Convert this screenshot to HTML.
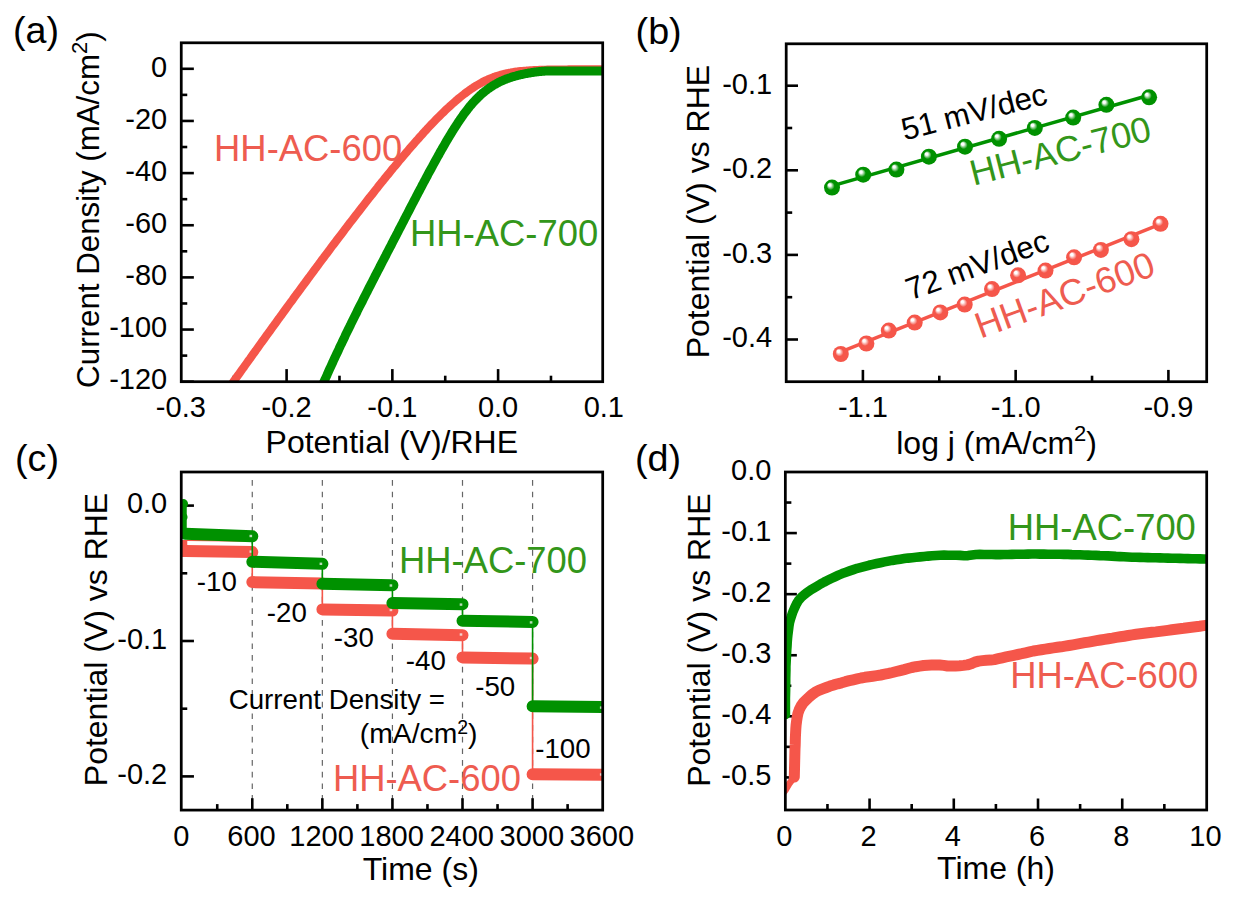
<!DOCTYPE html>
<html><head><meta charset="utf-8"><style>html,body{margin:0;padding:0;background:#fff;overflow:hidden}svg{display:block}</style></head>
<body>
<svg width="1247" height="900" viewBox="0 0 1247 900" font-family='"Liberation Sans", sans-serif'>
<defs>
<radialGradient id="gG" cx="0.5" cy="0.5" r="0.5" fx="0.33" fy="0.30"><stop offset="0" stop-color="#fff"/><stop offset="0.16" stop-color="#fff" stop-opacity="0.95"/><stop offset="0.5" stop-color="#009100"/><stop offset="1" stop-color="#009100"/></radialGradient>
<radialGradient id="gR" cx="0.5" cy="0.5" r="0.5" fx="0.33" fy="0.30"><stop offset="0" stop-color="#fff"/><stop offset="0.16" stop-color="#fff" stop-opacity="0.95"/><stop offset="0.5" stop-color="#F5564A"/><stop offset="1" stop-color="#F5564A"/></radialGradient>
<clipPath id="cA"><rect x="181.25" y="42.8" width="421.45" height="338.9"/></clipPath>
<clipPath id="cC"><rect x="181.25" y="472" width="421.45" height="338.1"/></clipPath>
<clipPath id="cD"><rect x="785.35" y="472" width="421.35" height="338"/></clipPath>
</defs>
<rect width="1247" height="900" fill="#fff"/>
<line x1="181.25" y1="68.80" x2="193.85" y2="68.80" stroke="#000" stroke-width="2.6" />
<line x1="181.25" y1="120.95" x2="193.85" y2="120.95" stroke="#000" stroke-width="2.6" />
<line x1="181.25" y1="173.10" x2="193.85" y2="173.10" stroke="#000" stroke-width="2.6" />
<line x1="181.25" y1="225.25" x2="193.85" y2="225.25" stroke="#000" stroke-width="2.6" />
<line x1="181.25" y1="277.40" x2="193.85" y2="277.40" stroke="#000" stroke-width="2.6" />
<line x1="181.25" y1="329.55" x2="193.85" y2="329.55" stroke="#000" stroke-width="2.6" />
<line x1="181.25" y1="381.70" x2="193.85" y2="381.70" stroke="#000" stroke-width="2.6" />
<line x1="181.25" y1="94.88" x2="187.25" y2="94.88" stroke="#000" stroke-width="2.6" />
<line x1="181.25" y1="147.02" x2="187.25" y2="147.02" stroke="#000" stroke-width="2.6" />
<line x1="181.25" y1="199.18" x2="187.25" y2="199.18" stroke="#000" stroke-width="2.6" />
<line x1="181.25" y1="251.32" x2="187.25" y2="251.32" stroke="#000" stroke-width="2.6" />
<line x1="181.25" y1="303.47" x2="187.25" y2="303.47" stroke="#000" stroke-width="2.6" />
<line x1="181.25" y1="355.62" x2="187.25" y2="355.62" stroke="#000" stroke-width="2.6" />
<line x1="286.60" y1="381.70" x2="286.60" y2="369.10" stroke="#000" stroke-width="2.6" />
<line x1="392.35" y1="381.70" x2="392.35" y2="369.10" stroke="#000" stroke-width="2.6" />
<line x1="498.10" y1="381.70" x2="498.10" y2="369.10" stroke="#000" stroke-width="2.6" />
<line x1="233.73" y1="381.70" x2="233.73" y2="375.70" stroke="#000" stroke-width="2.6" />
<line x1="339.48" y1="381.70" x2="339.48" y2="375.70" stroke="#000" stroke-width="2.6" />
<line x1="445.23" y1="381.70" x2="445.23" y2="375.70" stroke="#000" stroke-width="2.6" />
<line x1="550.98" y1="381.70" x2="550.98" y2="375.70" stroke="#000" stroke-width="2.6" />
<g clip-path="url(#cA)" fill="none" stroke-linejoin="round">
<path transform="translate(1.2,0)" d="M227.5,388.3 L229.4,385.6 L231.4,382.9 L233.3,380.2 L235.2,377.5 L237.2,374.8 L239.1,372.1 L241.0,369.4 L243.0,366.7 L244.9,364.0 L246.8,361.3 L248.8,358.6 L250.7,355.9 L252.6,353.2 L254.6,350.5 L256.5,347.8 L258.4,345.2 L260.3,342.5 L262.3,339.8 L264.2,337.1 L266.1,334.4 L268.1,331.8 L270.0,329.1 L271.9,326.4 L273.9,323.8 L275.8,321.1 L277.7,318.4 L279.7,315.8 L281.6,313.1 L283.5,310.5 L285.5,307.8 L287.4,305.2 L289.3,302.5 L291.3,299.9 L293.2,297.2 L295.1,294.6 L297.1,292.0 L299.0,289.3 L300.9,286.7 L302.9,284.1 L304.8,281.5 L306.7,278.8 L308.7,276.2 L310.6,273.6 L312.5,271.0 L314.4,268.4 L316.4,265.8 L318.3,263.2 L320.2,260.6 L322.2,258.0 L324.1,255.4 L326.0,252.9 L328.0,250.3 L329.9,247.7 L331.8,245.1 L333.8,242.6 L335.7,240.0 L337.6,237.5 L339.6,234.9 L341.5,232.4 L343.4,229.8 L345.4,227.3 L347.3,224.8 L349.2,222.2 L351.2,219.7 L353.1,217.2 L355.0,214.7 L357.0,212.2 L358.9,209.7 L360.8,207.2 L362.8,204.7 L364.7,202.3 L366.6,199.8 L368.5,197.3 L370.5,194.9 L372.4,192.4 L374.3,190.0 L376.3,187.6 L378.2,185.1 L380.1,182.7 L382.1,180.3 L384.0,177.9 L385.9,175.5 L387.9,173.2 L389.8,170.8 L391.7,168.4 L393.7,166.1 L395.6,163.8 L397.5,161.4 L399.5,159.1 L401.4,156.8 L403.3,154.6 L405.3,152.3 L407.2,150.0 L409.1,147.8 L411.1,145.6 L413.0,143.3 L414.9,141.1 L416.9,139.0 L418.8,136.8 L420.7,134.7 L422.6,132.5 L424.6,130.4 L426.5,128.3 L428.4,126.3 L430.4,124.2 L432.3,122.2 L434.2,120.2 L436.2,118.2 L438.1,116.3 L440.0,114.4 L442.0,112.5 L443.9,110.6 L445.8,108.8 L447.8,107.0 L449.7,105.2 L451.6,103.5 L453.6,101.8 L455.5,100.1 L457.4,98.5 L459.4,96.9 L461.3,95.4 L463.2,93.9 L465.2,92.4 L467.1,91.0 L469.0,89.6 L471.0,88.3 L472.9,87.0 L474.8,85.8 L476.7,84.7 L478.7,83.6 L480.6,82.5 L482.5,81.5 L484.5,80.5 L486.4,79.6 L488.3,78.8 L490.3,78.0 L492.2,77.2 L494.1,76.5 L496.1,75.9 L498.0,75.3 L499.9,74.7 L501.9,74.2 L503.8,73.7 L505.7,73.3 L507.7,72.9 L509.6,72.6 L511.5,72.2 L513.5,71.9 L515.4,71.7 L517.3,71.4 L519.3,71.2 L521.2,71.0 L523.1,70.8 L525.1,70.7 L527.0,70.5 L528.9,70.4 L530.8,70.3 L532.8,70.2 L534.7,70.1 L536.6,70.0 L538.6,69.9 L540.5,69.9 L542.4,69.8 L544.4,69.8 L546.3,69.7 L548.2,69.7 L550.2,69.7 L552.1,69.6 L554.0,69.6 L556.0,69.6 L557.9,69.5 L559.8,69.5 L561.8,69.5 L563.7,69.5 L565.6,69.5 L567.6,69.4 L569.5,69.4 L571.4,69.4 L573.4,69.4 L575.3,69.4 L577.2,69.4 L579.2,69.4 L581.1,69.4 L583.0,69.4 L584.9,69.4 L586.9,69.4 L588.8,69.4 L590.7,69.4 L592.7,69.4 L594.6,69.4 L596.5,69.4 L598.5,69.4 L600.4,69.4 L602.3,69.4 L604.3,69.4 L606.2,69.4 L608.1,69.4 L610.1,69.4 L612.0,69.4" stroke="#F5564A" stroke-width="8.2"/>
<path transform="translate(1.0,0)" d="M318.0,393.1 L319.0,390.9 L320.0,388.6 L320.9,386.4 L321.9,384.1 L322.9,381.9 L323.9,379.7 L324.9,377.5 L325.9,375.3 L326.8,373.1 L327.8,370.9 L328.8,368.7 L329.8,366.6 L330.8,364.4 L331.8,362.3 L332.7,360.1 L333.7,358.0 L334.7,355.9 L335.7,353.8 L336.7,351.7 L337.7,349.6 L338.6,347.5 L339.6,345.4 L340.6,343.4 L341.6,341.3 L342.6,339.2 L343.6,337.2 L344.5,335.1 L345.5,333.1 L346.5,331.1 L347.5,329.0 L348.5,327.0 L349.5,325.0 L350.4,323.0 L351.4,321.0 L352.4,319.0 L353.4,317.0 L354.4,315.0 L355.4,313.1 L356.3,311.1 L357.3,309.1 L358.3,307.1 L359.3,305.2 L360.3,303.2 L361.3,301.3 L362.2,299.3 L363.2,297.4 L364.2,295.4 L365.2,293.5 L366.2,291.6 L367.2,289.6 L368.1,287.7 L369.1,285.8 L370.1,283.9 L371.1,282.0 L372.1,280.0 L373.1,278.1 L374.0,276.2 L375.0,274.3 L376.0,272.4 L377.0,270.5 L378.0,268.6 L379.0,266.7 L379.9,264.8 L380.9,262.9 L381.9,261.0 L382.9,259.1 L383.9,257.2 L384.9,255.3 L385.8,253.4 L386.8,251.5 L387.8,249.6 L388.8,247.7 L389.8,245.8 L390.8,243.9 L391.7,242.0 L392.7,240.1 L393.7,238.2 L394.7,236.3 L395.7,234.4 L396.7,232.5 L397.6,230.6 L398.6,228.7 L399.6,226.8 L400.6,224.9 L401.6,223.0 L402.6,221.1 L403.5,219.2 L404.5,217.3 L405.5,215.4 L406.5,213.5 L407.5,211.6 L408.5,209.7 L409.4,207.8 L410.4,205.9 L411.4,204.0 L412.4,202.1 L413.4,200.2 L414.4,198.3 L415.3,196.5 L416.3,194.6 L417.3,192.7 L418.3,190.8 L419.3,188.9 L420.3,187.1 L421.2,185.2 L422.2,183.4 L423.2,181.5 L424.2,179.7 L425.2,177.8 L426.2,176.0 L427.1,174.1 L428.1,172.3 L429.1,170.5 L430.1,168.7 L431.1,166.9 L432.1,165.0 L433.0,163.3 L434.0,161.5 L435.0,159.7 L436.0,157.9 L437.0,156.1 L438.0,154.4 L438.9,152.6 L439.9,150.9 L440.9,149.1 L441.9,147.4 L442.9,145.7 L443.9,144.0 L444.8,142.3 L445.8,140.6 L446.8,139.0 L447.8,137.3 L448.8,135.7 L449.8,134.1 L450.7,132.5 L451.7,130.9 L452.7,129.3 L453.7,127.8 L454.7,126.2 L455.7,124.7 L456.6,123.2 L457.6,121.7 L458.6,120.3 L459.6,118.8 L460.6,117.4 L461.6,116.0 L462.5,114.6 L463.5,113.3 L464.5,112.0 L465.5,110.7 L466.5,109.4 L467.5,108.2 L468.4,106.9 L469.4,105.7 L470.4,104.6 L471.4,103.4 L472.4,102.3 L473.4,101.2 L474.3,100.2 L475.3,99.2 L476.3,98.2 L477.3,97.2 L478.3,96.3 L479.3,95.3 L480.2,94.4 L481.2,93.6 L482.2,92.7 L483.2,91.9 L484.2,91.1 L485.2,90.4 L486.1,89.6 L487.1,88.9 L488.1,88.2 L489.1,87.5 L490.1,86.9 L491.1,86.2 L492.0,85.6 L493.0,85.0 L494.0,84.4 L495.0,83.9 L496.0,83.3 L497.0,82.8 L497.9,82.3 L498.9,81.8 L499.9,81.3 L500.9,80.9 L501.9,80.4 L502.9,80.0 L503.8,79.6 L504.8,79.2 L505.8,78.8 L506.8,78.5 L507.8,78.1 L508.8,77.8 L509.7,77.5 L510.7,77.1 L511.7,76.8 L512.7,76.5 L513.7,76.3 L514.7,76.0 L515.6,75.7 L516.6,75.5 L517.6,75.2 L518.6,75.0 L519.6,74.7 L520.6,74.5 L521.5,74.3 L522.5,74.1 L523.5,73.9 L524.5,73.7 L525.5,73.5 L526.5,73.3 L527.4,73.1 L528.4,73.0 L529.4,72.8 L530.4,72.6 L531.4,72.5 L532.4,72.3 L533.3,72.2 L534.3,72.1 L535.3,71.9 L536.3,71.8 L537.3,71.7 L538.3,71.6 L539.2,71.5 L540.2,71.4 L541.2,71.3 L542.2,71.2 L543.2,71.2 L544.2,71.1 L545.1,71.1 L546.1,71.0 L547.1,71.0 L548.1,71.0 L549.1,71.0 L550.1,71.0 L551.0,71.0 L552.0,70.9 L553.0,70.9 L554.0,70.9 L555.0,70.9 L556.0,70.9 L556.9,70.9 L557.9,70.9 L558.9,70.9 L559.9,70.9 L560.9,70.9 L561.9,70.9 L562.8,70.9 L563.8,70.9 L564.8,70.9 L565.8,70.9 L566.8,70.9 L567.8,70.9 L568.7,70.9 L569.7,70.9 L570.7,70.9 L571.7,70.9 L572.7,70.9 L573.7,70.9 L574.6,70.9 L575.6,70.9 L576.6,70.9 L577.6,70.9 L578.6,70.9 L579.6,70.9 L580.5,70.9 L581.5,70.9 L582.5,70.9 L583.5,70.9 L584.5,70.9 L585.5,70.9 L586.4,70.9 L587.4,70.9 L588.4,70.9 L589.4,70.9 L590.4,70.9 L591.4,70.9 L592.3,70.9 L593.3,70.9 L594.3,70.9 L595.3,70.9 L596.3,70.9 L597.3,70.9 L598.2,70.9 L599.2,70.9 L600.2,70.9 L601.2,70.9 L602.2,70.9 L603.2,70.9 L604.1,70.9 L605.1,70.9 L606.1,70.9 L607.1,70.9 L608.1,70.9 L609.1,70.9 L610.0,70.9 L611.0,70.9 L612.0,70.9" stroke="#009100" stroke-width="9"/>
</g>
<rect x="181.25" y="42.80" width="421.45" height="338.90" fill="none" stroke="#000" stroke-width="2.75"/>
<text x="167.25" y="76.50" font-size="29" text-anchor="end" fill="#000" >0</text>
<text x="167.25" y="128.65" font-size="29" text-anchor="end" fill="#000" >-20</text>
<text x="167.25" y="180.80" font-size="29" text-anchor="end" fill="#000" >-40</text>
<text x="167.25" y="232.95" font-size="29" text-anchor="end" fill="#000" >-60</text>
<text x="167.25" y="285.10" font-size="29" text-anchor="end" fill="#000" >-80</text>
<text x="167.25" y="337.25" font-size="29" text-anchor="end" fill="#000" >-100</text>
<text x="167.25" y="389.40" font-size="29" text-anchor="end" fill="#000" >-120</text>
<text x="180.85" y="416.60" font-size="29" text-anchor="middle" fill="#000" >-0.3</text>
<text x="286.60" y="416.60" font-size="29" text-anchor="middle" fill="#000" >-0.2</text>
<text x="392.35" y="416.60" font-size="29" text-anchor="middle" fill="#000" >-0.1</text>
<text x="498.10" y="416.60" font-size="29" text-anchor="middle" fill="#000" >0.0</text>
<text x="603.85" y="416.60" font-size="29" text-anchor="middle" fill="#000" >0.1</text>
<text x="391.80" y="453.30" font-size="32" text-anchor="middle" fill="#000" >Potential (V)/RHE</text>
<text transform="translate(99.4,209.6) rotate(-90)" font-size="31.3" text-anchor="middle">Current Density (mA/cm<tspan font-size="22" dy="-12.5">2</tspan><tspan dy="12.5">)</tspan></text>
<text x="13.00" y="43.30" font-size="37.7" text-anchor="start" fill="#000" >(a)</text>
<text x="214.10" y="161.30" font-size="36.4" text-anchor="start" fill="#EE5C50" >HH-AC-600</text>
<text x="410.10" y="246.00" font-size="36.4" text-anchor="start" fill="#33961A" >HH-AC-700</text>
<rect x="786.20" y="43.80" width="420.50" height="337.90" fill="none" stroke="#000" stroke-width="2.75"/>
<line x1="786.20" y1="85.70" x2="798.00" y2="85.70" stroke="#000" stroke-width="2.6" />
<line x1="786.20" y1="170.30" x2="798.00" y2="170.30" stroke="#000" stroke-width="2.6" />
<line x1="786.20" y1="254.90" x2="798.00" y2="254.90" stroke="#000" stroke-width="2.6" />
<line x1="786.20" y1="339.50" x2="798.00" y2="339.50" stroke="#000" stroke-width="2.6" />
<line x1="786.20" y1="128.00" x2="792.20" y2="128.00" stroke="#000" stroke-width="2.6" />
<line x1="786.20" y1="212.60" x2="792.20" y2="212.60" stroke="#000" stroke-width="2.6" />
<line x1="786.20" y1="297.20" x2="792.20" y2="297.20" stroke="#000" stroke-width="2.6" />
<line x1="862.90" y1="381.70" x2="862.90" y2="369.90" stroke="#000" stroke-width="2.6" />
<line x1="1015.65" y1="381.70" x2="1015.65" y2="369.90" stroke="#000" stroke-width="2.6" />
<line x1="1168.40" y1="381.70" x2="1168.40" y2="369.90" stroke="#000" stroke-width="2.6" />
<line x1="939.28" y1="381.70" x2="939.28" y2="375.70" stroke="#000" stroke-width="2.6" />
<line x1="1092.03" y1="381.70" x2="1092.03" y2="375.70" stroke="#000" stroke-width="2.6" />
<text x="772.20" y="93.60" font-size="29" text-anchor="end" fill="#000" >-0.1</text>
<text x="772.20" y="178.20" font-size="29" text-anchor="end" fill="#000" >-0.2</text>
<text x="772.20" y="262.80" font-size="29" text-anchor="end" fill="#000" >-0.3</text>
<text x="772.20" y="347.40" font-size="29" text-anchor="end" fill="#000" >-0.4</text>
<text x="862.90" y="417.20" font-size="29" text-anchor="middle" fill="#000" >-1.1</text>
<text x="1015.65" y="417.20" font-size="29" text-anchor="middle" fill="#000" >-1.0</text>
<text x="1168.40" y="417.20" font-size="29" text-anchor="middle" fill="#000" >-0.9</text>
<text x="996.6" y="453.5" font-size="32" text-anchor="middle">log j (mA/cm<tspan font-size="22" dy="-12.5">2</tspan><tspan dy="12.5">)</tspan></text>
<text transform="translate(709.4,211.6) rotate(-90)" font-size="32" text-anchor="middle">Potential (V) vs RHE</text>
<text x="635.60" y="44.30" font-size="37.7" text-anchor="start" fill="#000" >(b)</text>
<line x1="832.00" y1="185.83" x2="1149.10" y2="95.23" stroke="#009100" stroke-width="3.5" />
<circle cx="832.0" cy="187.6" r="8" fill="url(#gG)"/>
<circle cx="863.2" cy="174.7" r="8" fill="url(#gG)"/>
<circle cx="896.4" cy="169.6" r="8" fill="url(#gG)"/>
<circle cx="928.9" cy="156.7" r="8" fill="url(#gG)"/>
<circle cx="965" cy="146.7" r="8" fill="url(#gG)"/>
<circle cx="999.1" cy="138.8" r="8" fill="url(#gG)"/>
<circle cx="1034.8" cy="127.9" r="8" fill="url(#gG)"/>
<circle cx="1073.2" cy="117.6" r="8" fill="url(#gG)"/>
<circle cx="1106.4" cy="104.8" r="8" fill="url(#gG)"/>
<circle cx="1149.1" cy="97.3" r="8" fill="url(#gG)"/>
<line x1="840.80" y1="351.97" x2="1160.50" y2="224.15" stroke="#F5564A" stroke-width="3.5" />
<circle cx="840.8" cy="354.0" r="8" fill="url(#gR)"/>
<circle cx="866.4" cy="343.5" r="8" fill="url(#gR)"/>
<circle cx="888.8" cy="330.6" r="8" fill="url(#gR)"/>
<circle cx="914.7" cy="322.6" r="8" fill="url(#gR)"/>
<circle cx="940.3" cy="312.4" r="8" fill="url(#gR)"/>
<circle cx="964.7" cy="304.6" r="8" fill="url(#gR)"/>
<circle cx="992" cy="289.1" r="8" fill="url(#gR)"/>
<circle cx="1018.1" cy="275.3" r="8" fill="url(#gR)"/>
<circle cx="1045.5" cy="270.6" r="8" fill="url(#gR)"/>
<circle cx="1074.1" cy="257.3" r="8" fill="url(#gR)"/>
<circle cx="1100.9" cy="249.9" r="8" fill="url(#gR)"/>
<circle cx="1131.4" cy="239.2" r="8" fill="url(#gR)"/>
<circle cx="1160.5" cy="223.8" r="8" fill="url(#gR)"/>
<text transform="translate(904.5,140.5) rotate(-14.3)" font-size="31.2" fill="#000">51 mV/dec</text>
<text transform="translate(973.4,185.7) rotate(-14.3)" font-size="35.9" fill="#33961A">HH-AC-700</text>
<text transform="translate(910.6,300.6) rotate(-20)" font-size="31.3" fill="#000">72 mV/dec</text>
<text transform="translate(980.5,338.8) rotate(-20)" font-size="36.4" fill="#EE5C50">HH-AC-600</text>
<line x1="252.27" y1="480.00" x2="252.27" y2="810.10" stroke="#666" stroke-width="1.2" stroke-dasharray="5.7 5.97"/>
<line x1="322.35" y1="480.00" x2="322.35" y2="810.10" stroke="#666" stroke-width="1.2" stroke-dasharray="5.7 5.97"/>
<line x1="392.43" y1="480.00" x2="392.43" y2="810.10" stroke="#666" stroke-width="1.2" stroke-dasharray="5.7 5.97"/>
<line x1="462.50" y1="480.00" x2="462.50" y2="810.10" stroke="#666" stroke-width="1.2" stroke-dasharray="5.7 5.97"/>
<line x1="532.58" y1="480.00" x2="532.58" y2="810.10" stroke="#666" stroke-width="1.2" stroke-dasharray="5.7 5.97"/>
<line x1="181.25" y1="505.60" x2="193.95" y2="505.60" stroke="#000" stroke-width="2.6" />
<line x1="181.25" y1="641.00" x2="193.95" y2="641.00" stroke="#000" stroke-width="2.6" />
<line x1="181.25" y1="776.40" x2="193.95" y2="776.40" stroke="#000" stroke-width="2.6" />
<line x1="181.25" y1="573.30" x2="187.25" y2="573.30" stroke="#000" stroke-width="2.6" />
<line x1="181.25" y1="708.70" x2="187.25" y2="708.70" stroke="#000" stroke-width="2.6" />
<line x1="252.27" y1="810.10" x2="252.27" y2="798.20" stroke="#000" stroke-width="2.6" />
<line x1="322.35" y1="810.10" x2="322.35" y2="798.20" stroke="#000" stroke-width="2.6" />
<line x1="392.43" y1="810.10" x2="392.43" y2="798.20" stroke="#000" stroke-width="2.6" />
<line x1="462.50" y1="810.10" x2="462.50" y2="798.20" stroke="#000" stroke-width="2.6" />
<line x1="532.58" y1="810.10" x2="532.58" y2="798.20" stroke="#000" stroke-width="2.6" />
<line x1="217.24" y1="810.10" x2="217.24" y2="804.10" stroke="#000" stroke-width="2.6" />
<line x1="287.31" y1="810.10" x2="287.31" y2="804.10" stroke="#000" stroke-width="2.6" />
<line x1="357.39" y1="810.10" x2="357.39" y2="804.10" stroke="#000" stroke-width="2.6" />
<line x1="427.46" y1="810.10" x2="427.46" y2="804.10" stroke="#000" stroke-width="2.6" />
<line x1="497.54" y1="810.10" x2="497.54" y2="804.10" stroke="#000" stroke-width="2.6" />
<line x1="567.61" y1="810.10" x2="567.61" y2="804.10" stroke="#000" stroke-width="2.6" />
<g clip-path="url(#cC)" stroke-linecap="round" fill="none">
<rect x="181.25" y="540" width="6" height="17" fill="#F5564A" stroke="none"/>
<line x1="185.2" y1="551.10" x2="252.3" y2="552.10" stroke="#F5564A" stroke-width="12"/>
<line x1="252.27" y1="551.60" x2="252.27" y2="582.80" stroke="#F5564A" stroke-width="1.6" />
<line x1="252.3" y1="582.10" x2="322.4" y2="583.50" stroke="#F5564A" stroke-width="12"/>
<line x1="322.35" y1="582.80" x2="322.35" y2="610.00" stroke="#F5564A" stroke-width="1.6" />
<line x1="322.4" y1="609.40" x2="392.4" y2="610.60" stroke="#F5564A" stroke-width="12"/>
<line x1="392.43" y1="610.00" x2="392.43" y2="634.50" stroke="#F5564A" stroke-width="1.6" />
<line x1="392.4" y1="633.80" x2="462.5" y2="635.20" stroke="#F5564A" stroke-width="12"/>
<line x1="462.50" y1="634.50" x2="462.50" y2="658.00" stroke="#F5564A" stroke-width="1.6" />
<line x1="462.5" y1="657.40" x2="532.6" y2="658.60" stroke="#F5564A" stroke-width="12"/>
<line x1="532.58" y1="658.00" x2="532.58" y2="774.50" stroke="#F5564A" stroke-width="1.6" />
<line x1="532.6" y1="774.20" x2="602.7" y2="774.80" stroke="#F5564A" stroke-width="12"/>
<line x1="187.25" y1="540.40" x2="248.27" y2="541.20" stroke="#F5564A" stroke-width="1.3" />
<rect x="249.5" y="550.4" width="2.6" height="2.4" fill="#f4d0cc" stroke="none"/>
<rect x="319.6" y="581.6" width="2.6" height="2.4" fill="#f4d0cc" stroke="none"/>
<rect x="389.6" y="608.8" width="2.6" height="2.4" fill="#f4d0cc" stroke="none"/>
<rect x="459.7" y="633.3" width="2.6" height="2.4" fill="#f4d0cc" stroke="none"/>
<rect x="529.8" y="656.8" width="2.6" height="2.4" fill="#f4d0cc" stroke="none"/>
<rect x="599.9" y="773.3" width="2.6" height="2.4" fill="#f4d0cc" stroke="none"/>
<line x1="185.2" y1="533.70" x2="252.3" y2="536.30" stroke="#009100" stroke-width="12"/>
<line x1="252.27" y1="535.00" x2="252.27" y2="562.80" stroke="#009100" stroke-width="1.6" />
<line x1="252.3" y1="561.80" x2="322.4" y2="563.80" stroke="#009100" stroke-width="12"/>
<line x1="322.35" y1="562.80" x2="322.35" y2="584.50" stroke="#009100" stroke-width="1.6" />
<line x1="322.4" y1="583.80" x2="392.4" y2="585.20" stroke="#009100" stroke-width="12"/>
<line x1="392.43" y1="584.50" x2="392.43" y2="603.60" stroke="#009100" stroke-width="1.6" />
<line x1="392.4" y1="603.00" x2="462.5" y2="604.20" stroke="#009100" stroke-width="12"/>
<line x1="462.50" y1="603.60" x2="462.50" y2="621.40" stroke="#009100" stroke-width="1.6" />
<line x1="462.5" y1="620.80" x2="532.6" y2="622.00" stroke="#009100" stroke-width="12"/>
<line x1="532.58" y1="621.40" x2="532.58" y2="706.60" stroke="#009100" stroke-width="1.6" />
<line x1="532.6" y1="706.30" x2="602.7" y2="706.90" stroke="#009100" stroke-width="12"/>
<rect x="249.5" y="534.8" width="2.6" height="2.4" fill="#b8dcb8" stroke="none"/>
<rect x="319.6" y="562.6" width="2.6" height="2.4" fill="#b8dcb8" stroke="none"/>
<rect x="389.6" y="584.3" width="2.6" height="2.4" fill="#b8dcb8" stroke="none"/>
<rect x="459.7" y="603.4" width="2.6" height="2.4" fill="#b8dcb8" stroke="none"/>
<rect x="529.8" y="621.2" width="2.6" height="2.4" fill="#b8dcb8" stroke="none"/>
<rect x="599.9" y="706.4" width="2.6" height="2.4" fill="#b8dcb8" stroke="none"/>
<path d="M183.25,505.5 L183.25,530" stroke="#009100" stroke-width="7" stroke-linecap="round"/>
<circle cx="183.25" cy="503.8" r="4.8" fill="#009100"/>
<circle cx="183.25" cy="517" r="4.3" fill="#009100"/>
</g>
<rect x="181.25" y="472.00" width="421.45" height="338.10" fill="none" stroke="#000" stroke-width="2.75"/>
<text x="167.25" y="513.40" font-size="29" text-anchor="end" fill="#000" >0.0</text>
<text x="167.25" y="648.80" font-size="29" text-anchor="end" fill="#000" >-0.1</text>
<text x="167.25" y="784.20" font-size="29" text-anchor="end" fill="#000" >-0.2</text>
<text x="181.40" y="845.50" font-size="29" text-anchor="middle" fill="#000" >0</text>
<text x="251.47" y="845.50" font-size="29" text-anchor="middle" fill="#000" >600</text>
<text x="321.55" y="845.50" font-size="29" text-anchor="middle" fill="#000" >1200</text>
<text x="391.62" y="845.50" font-size="29" text-anchor="middle" fill="#000" >1800</text>
<text x="461.70" y="845.50" font-size="29" text-anchor="middle" fill="#000" >2400</text>
<text x="531.78" y="845.50" font-size="29" text-anchor="middle" fill="#000" >3000</text>
<text x="601.85" y="845.50" font-size="29" text-anchor="middle" fill="#000" >3600</text>
<text x="420.80" y="879.70" font-size="32" text-anchor="middle" fill="#000" >Time (s)</text>
<text transform="translate(106.7,639.5) rotate(-90)" font-size="32" text-anchor="middle">Potential (V) vs RHE</text>
<text x="15.00" y="471.00" font-size="37.7" text-anchor="start" fill="#000" >(c)</text>
<text x="196.77" y="591.30" font-size="27.7" text-anchor="start" fill="#000" >-10</text>
<text x="266.87" y="621.70" font-size="27.7" text-anchor="start" fill="#000" >-20</text>
<text x="333.87" y="646.60" font-size="27.7" text-anchor="start" fill="#000" >-30</text>
<text x="405.77" y="669.50" font-size="27.7" text-anchor="start" fill="#000" >-40</text>
<text x="475.17" y="695.60" font-size="27.7" text-anchor="start" fill="#000" >-50</text>
<text x="535.17" y="758.30" font-size="27.7" text-anchor="start" fill="#000" >-100</text>
<text x="228.69" y="709.30" font-size="27.7" text-anchor="start" fill="#000" >Current Density =</text>
<text x="359.8" y="742.9" font-size="28.3">(mA/cm<tspan font-size="19.5" dy="-8.5">2</tspan><tspan dy="8.5">)</tspan></text>
<text x="399.00" y="573.00" font-size="36.4" text-anchor="start" fill="#33961A" >HH-AC-700</text>
<text x="332.90" y="791.20" font-size="36.4" text-anchor="start" fill="#EE5C50" >HH-AC-600</text>
<line x1="785.35" y1="533.08" x2="796.85" y2="533.08" stroke="#000" stroke-width="2.6" />
<line x1="785.35" y1="594.16" x2="796.85" y2="594.16" stroke="#000" stroke-width="2.6" />
<line x1="785.35" y1="655.24" x2="796.85" y2="655.24" stroke="#000" stroke-width="2.6" />
<line x1="785.35" y1="716.32" x2="796.85" y2="716.32" stroke="#000" stroke-width="2.6" />
<line x1="785.35" y1="777.40" x2="796.85" y2="777.40" stroke="#000" stroke-width="2.6" />
<line x1="785.35" y1="502.54" x2="791.35" y2="502.54" stroke="#000" stroke-width="2.6" />
<line x1="785.35" y1="563.62" x2="791.35" y2="563.62" stroke="#000" stroke-width="2.6" />
<line x1="785.35" y1="624.70" x2="791.35" y2="624.70" stroke="#000" stroke-width="2.6" />
<line x1="785.35" y1="685.78" x2="791.35" y2="685.78" stroke="#000" stroke-width="2.6" />
<line x1="785.35" y1="746.86" x2="791.35" y2="746.86" stroke="#000" stroke-width="2.6" />
<line x1="869.57" y1="810.00" x2="869.57" y2="798.50" stroke="#000" stroke-width="2.6" />
<line x1="953.79" y1="810.00" x2="953.79" y2="798.50" stroke="#000" stroke-width="2.6" />
<line x1="1038.01" y1="810.00" x2="1038.01" y2="798.50" stroke="#000" stroke-width="2.6" />
<line x1="1122.23" y1="810.00" x2="1122.23" y2="798.50" stroke="#000" stroke-width="2.6" />
<line x1="827.46" y1="810.00" x2="827.46" y2="804.00" stroke="#000" stroke-width="2.6" />
<line x1="911.68" y1="810.00" x2="911.68" y2="804.00" stroke="#000" stroke-width="2.6" />
<line x1="995.90" y1="810.00" x2="995.90" y2="804.00" stroke="#000" stroke-width="2.6" />
<line x1="1080.12" y1="810.00" x2="1080.12" y2="804.00" stroke="#000" stroke-width="2.6" />
<line x1="1164.34" y1="810.00" x2="1164.34" y2="804.00" stroke="#000" stroke-width="2.6" />
<g clip-path="url(#cD)" fill="none" stroke-linejoin="round" stroke-linecap="round">
<path d="M784.0,792.0 L785.5,790.0 L789.0,784.0 L793.5,778.0 L794.5,768.0" stroke="#F5564A" stroke-width="6.5"/>
<path d="M794.3,777.0 L794.4,773.0 L794.5,769.0 L794.6,765.0 L794.7,761.0 L794.8,757.0 L794.9,753.0 L795.0,749.0 L795.2,745.0 L795.3,741.0 L795.4,737.0 L795.6,733.0 L795.8,729.0 L796.1,725.0 L796.6,721.1 L797.2,717.1 L798.0,713.2 L799.3,709.5 L801.1,706.0 L803.4,702.7 L806.2,699.9 L809.1,697.1 L812.1,694.5 L815.3,692.2 L818.8,690.4 L822.6,688.9 L826.3,687.5 L830.0,686.1 L833.8,684.9 L837.7,683.8 L841.6,682.8 L845.4,681.7 L849.3,680.7 L853.2,679.8 L857.1,678.9 L861.0,678.0 L864.9,677.3 L868.9,676.7 L872.8,676.2 L876.8,675.6 L880.7,675.0 L884.7,674.2 L888.6,673.4 L892.5,672.5 L896.4,671.5 L900.2,670.6 L904.1,669.6 L908.0,668.5 L911.8,667.5 L915.8,666.7 L919.7,666.1 L923.7,665.5 L927.6,665.2 L931.6,665.1 L935.6,665.0 L939.6,665.0 L943.6,665.4 L947.5,666.0 L951.5,666.1 L955.5,666.0 L959.5,665.8 L963.5,665.4 L967.4,664.9 L971.2,663.8 L974.8,662.1 L978.6,661.1 L982.5,660.6 L986.5,660.2 L990.5,660.1 L994.4,659.6 L998.3,658.7 L1002.2,657.8 L1006.1,656.9 L1010.0,656.1 L1013.9,655.3 L1017.8,654.5 L1021.7,653.7 L1025.6,652.8 L1029.5,651.9 L1033.4,651.0 L1037.4,650.3 L1041.3,649.7 L1045.3,649.1 L1049.2,648.5 L1053.2,647.9 L1057.2,647.3 L1061.1,646.8 L1065.1,646.1 L1069.0,645.5 L1073.0,644.8 L1076.9,644.1 L1080.8,643.4 L1084.8,642.7 L1088.7,642.1 L1092.7,641.4 L1096.6,640.7 L1100.5,640.0 L1104.5,639.3 L1108.4,638.7 L1112.4,638.1 L1116.3,637.4 L1120.3,636.8 L1124.2,636.2 L1128.2,635.5 L1132.1,634.9 L1136.1,634.3 L1140.1,633.8 L1144.0,633.3 L1148.0,632.8 L1152.0,632.3 L1155.9,631.9 L1159.9,631.4 L1163.9,630.9 L1167.8,630.4 L1171.8,629.8 L1175.8,629.3 L1179.7,628.8 L1183.7,628.3 L1187.7,627.7 L1191.6,627.2 L1195.6,626.7 L1199.6,626.2 L1203.5,625.6 L1207.5,625.1 L1211.5,624.7 L1211.5,624.7" stroke="#F5564A" stroke-width="11"/>
<path d="M785.4,714.5 L785.4,710.5 L785.4,706.5 L785.4,702.5 L785.4,698.5 L785.5,694.5 L785.6,690.5 L785.6,686.5 L785.7,682.5 L785.7,678.5 L785.8,674.5 L785.9,670.5 L785.9,666.5 L786.1,662.5 L786.3,658.5 L786.5,654.5 L786.7,650.5 L787.0,646.5 L787.2,642.5 L787.5,638.6 L787.9,634.6 L788.4,630.6 L788.9,626.6 L789.5,622.7 L790.6,618.8 L791.8,615.1 L793.1,611.3 L794.7,607.6 L796.4,604.0 L798.4,600.6 L801.0,597.6 L803.9,594.9 L807.0,592.4 L810.3,590.2 L813.8,588.1 L817.2,586.1 L820.6,584.0 L824.1,582.1 L827.7,580.3 L831.3,578.5 L834.9,576.8 L838.5,575.1 L842.2,573.6 L846.0,572.2 L849.7,570.9 L853.5,569.6 L857.3,568.3 L861.2,567.3 L865.0,566.3 L868.9,565.3 L872.8,564.4 L876.7,563.5 L880.6,562.7 L884.5,561.9 L888.5,561.1 L892.4,560.4 L896.4,559.8 L900.3,559.2 L904.3,558.6 L908.2,558.1 L912.2,557.7 L916.2,557.3 L920.2,556.9 L924.2,556.5 L928.1,556.1 L932.1,555.8 L936.1,555.5 L940.1,555.3 L944.1,555.1 L948.1,555.2 L952.1,555.2 L956.1,555.3 L960.1,555.4 L964.1,555.7 L968.1,555.6 L972.0,555.0 L976.0,554.5 L979.9,554.4 L983.9,554.5 L987.9,554.5 L991.9,554.5 L995.9,554.6 L999.9,554.6 L1003.9,554.5 L1007.9,554.5 L1011.9,554.4 L1015.9,554.3 L1019.9,554.2 L1023.9,554.2 L1027.9,554.1 L1031.9,554.0 L1035.9,554.0 L1039.9,554.1 L1043.9,554.1 L1047.9,554.2 L1051.9,554.2 L1055.9,554.3 L1059.9,554.3 L1063.9,554.4 L1067.9,554.4 L1071.9,554.6 L1075.9,554.7 L1079.9,554.8 L1083.9,555.0 L1087.9,555.1 L1091.9,555.3 L1095.9,555.4 L1099.9,555.6 L1103.9,555.7 L1107.9,555.9 L1111.9,556.1 L1115.9,556.4 L1119.9,556.6 L1123.9,556.8 L1127.9,557.0 L1131.9,557.2 L1135.9,557.3 L1139.9,557.4 L1143.9,557.5 L1147.9,557.6 L1151.9,557.7 L1155.9,557.8 L1159.9,557.9 L1163.9,558.0 L1167.9,558.1 L1171.9,558.2 L1175.9,558.3 L1179.9,558.4 L1183.9,558.5 L1187.9,558.6 L1191.9,558.7 L1195.9,558.8 L1199.9,558.9 L1203.9,559.0 L1207.9,559.0 L1211.9,559.0 L1211.9,559.0" stroke="#009100" stroke-width="9.6"/>
</g>
<rect x="785.35" y="472.00" width="421.35" height="338.00" fill="none" stroke="#000" stroke-width="2.75"/>
<text x="771.35" y="479.80" font-size="29" text-anchor="end" fill="#000" >0.0</text>
<text x="771.35" y="540.88" font-size="29" text-anchor="end" fill="#000" >-0.1</text>
<text x="771.35" y="601.96" font-size="29" text-anchor="end" fill="#000" >-0.2</text>
<text x="771.35" y="663.04" font-size="29" text-anchor="end" fill="#000" >-0.3</text>
<text x="771.35" y="724.12" font-size="29" text-anchor="end" fill="#000" >-0.4</text>
<text x="771.35" y="785.20" font-size="29" text-anchor="end" fill="#000" >-0.5</text>
<text x="784.35" y="846.30" font-size="29" text-anchor="middle" fill="#000" >0</text>
<text x="868.57" y="846.30" font-size="29" text-anchor="middle" fill="#000" >2</text>
<text x="952.79" y="846.30" font-size="29" text-anchor="middle" fill="#000" >4</text>
<text x="1037.01" y="846.30" font-size="29" text-anchor="middle" fill="#000" >6</text>
<text x="1121.23" y="846.30" font-size="29" text-anchor="middle" fill="#000" >8</text>
<text x="1205.45" y="846.30" font-size="29" text-anchor="middle" fill="#000" >10</text>
<text x="996.00" y="879.30" font-size="32" text-anchor="middle" fill="#000" >Time (h)</text>
<text transform="translate(709.7,640.1) rotate(-90)" font-size="32" text-anchor="middle">Potential (V) vs RHE</text>
<text x="634.90" y="471.30" font-size="37.7" text-anchor="start" fill="#000" >(d)</text>
<text x="1007.80" y="539.60" font-size="36.4" text-anchor="start" fill="#33961A" >HH-AC-700</text>
<text x="1010.20" y="688.20" font-size="36.4" text-anchor="start" fill="#EE5C50" >HH-AC-600</text>
</svg>
</body></html>
